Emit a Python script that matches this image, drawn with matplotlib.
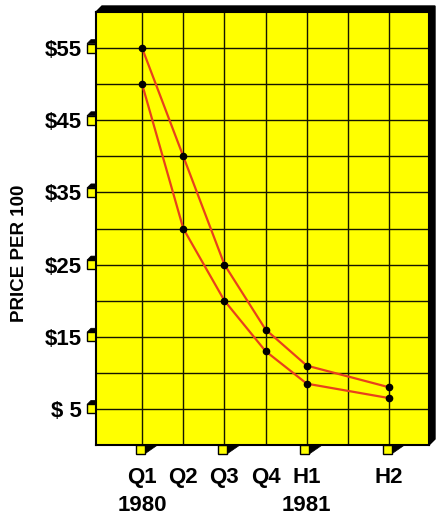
import matplotlib
matplotlib.use("Agg")
import matplotlib.pyplot as plt
from matplotlib.patches import Polygon, Rectangle

# ---- data ----
period_pos = [0, 1, 2, 3, 4, 6]
period_labels = ["Q1\n1980", "Q2", "Q3", "Q4", "H1\n1981", "H2"]
price_high = [55, 40, 25, 16, 11, 8]
price_low = [50, 30, 20, 13, 8.5, 6.5]
ytick_vals = [5, 15, 25, 35, 45, 55]
ytick_labels = [r"\$ 5", r"\$15", r"\$25", r"\$35", r"\$45", r"\$55"]
ygrid_minor = [10, 20, 30, 40, 50]
xgrid_minor = [5]
ylabel_text = "PRICE PER 100"

# ---- style ----
YELLOW = "#ffff00"
LINE_RED = "#e8401c"
W, H, DPI = 438, 518, 100
DEPTH = 6          # extrusion depth of the panel (px)
BOX = 9            # size of the small tick blocks (px)
box_x_positions = [0, 2, 4, 6]

plt.rcParams["font.family"] = ["Liberation Sans", "DejaVu Sans"]

fig = plt.figure(figsize=(W / DPI, H / DPI), dpi=DPI, facecolor="white")

# background layer in pixel coordinates for the 3-D decorations
bg = fig.add_axes([0, 0, 1, 1], zorder=0)
bg.set_xlim(0, W)
bg.set_ylim(0, H)
bg.axis("off")

L, R, T, B = 96, 429, 12, 445  # panel edges, pixels from top-left
ax = fig.add_axes([L / W, (H - B) / H, (R - L) / W, (B - T) / H], zorder=1)
ax.set_facecolor(YELLOW)
ax.set_xlim(-1.12, 6.97)
ax.set_ylim(0, 60)

ax.set_xticks(period_pos)
ax.set_xticklabels(period_labels, fontsize=16, fontweight="bold",
                   linespacing=1.45, va="top")
ax.set_xticks(xgrid_minor, minor=True)
ax.set_yticks(ytick_vals)
ax.set_yticklabels(ytick_labels, fontsize=16, fontweight="bold")
ax.set_yticks(ygrid_minor, minor=True)
ax.tick_params(axis="both", which="both", length=0)
ax.tick_params(axis="y", pad=10)
ax.tick_params(axis="x", pad=16)

ax.grid(True, which="both", color="#151500", linewidth=1.0)
ax.set_axisbelow(True)
for sp in ax.spines.values():
    sp.set_color("black")
    sp.set_linewidth(1.5)

ax.set_ylabel(ylabel_text, fontsize=13.5, fontweight="bold", va="center")
ax.yaxis.set_label_coords(-0.23, 0.443)

ax.plot(period_pos, price_high, color=LINE_RED, lw=1.6, zorder=3,
        marker="o", markersize=4.5, markerfacecolor="black",
        markeredgecolor="black")
ax.plot(period_pos, price_low, color=LINE_RED, lw=1.6, zorder=3,
        marker="o", markersize=4.5, markerfacecolor="black",
        markeredgecolor="black")

# ---- 3-D panel extrusion (top and right) ----
x0, y0 = ax.transAxes.transform((0, 0))
x1, y1 = ax.transAxes.transform((1, 1))
bg.add_patch(Polygon([(x0, y1), (x0 + DEPTH, y1 + DEPTH), (x1 + DEPTH, y1 + DEPTH),
                      (x1 + DEPTH, y0 + DEPTH), (x1, y0), (x1, y1)],
                     closed=True, facecolor="black", edgecolor="black"))

# ---- y tick blocks ----
for v in ytick_vals:
    _, py = ax.transData.transform((0, v))
    bx0 = x0 - BOX
    top = py + BOX / 2
    bg.add_patch(Polygon([(bx0, top), (bx0 + 4, top + 4), (x0, top + 4), (x0, top)],
                         closed=True, facecolor="black", edgecolor="black", lw=0.5))
    bg.add_patch(Rectangle((bx0, py - BOX / 2), BOX, BOX, facecolor=YELLOW,
                           edgecolor="black", lw=1.0))

# ---- x tick blocks ----
for v in box_x_positions:
    px, _ = ax.transData.transform((v, 0))
    bx0 = px - 2 - BOX / 2
    bx1 = bx0 + BOX
    bg.add_patch(Polygon([(bx1, y0), (bx1 + 13, y0), (bx1, y0 - BOX)],
                         closed=True, facecolor="black", edgecolor="black", lw=0.5))
    bg.add_patch(Rectangle((bx0, y0 - BOX), BOX, BOX, facecolor=YELLOW,
                           edgecolor="black", lw=1.0))

fig.savefig("out.png", dpi=DPI, facecolor="white")
